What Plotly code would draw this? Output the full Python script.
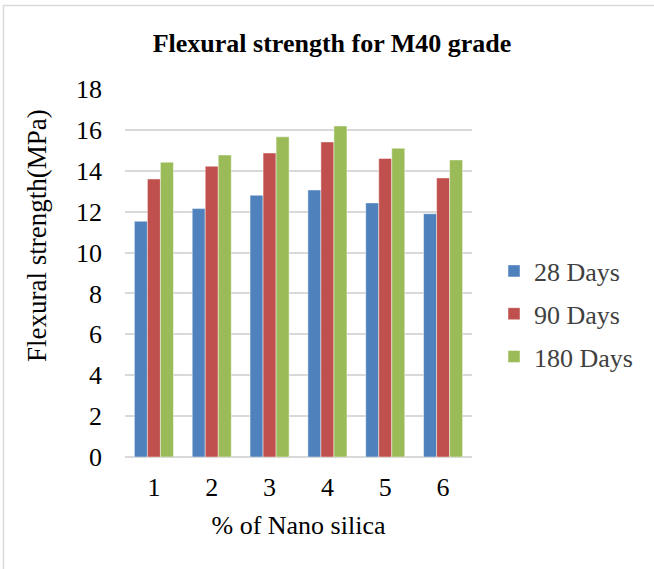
import plotly.graph_objects as go

categories = ["1", "2", "3", "4", "5", "6"]
days28 = [11.53, 12.15, 12.80, 13.06, 12.43, 11.90]
days90 = [13.60, 14.22, 14.87, 15.41, 14.60, 13.65]
days180 = [14.42, 14.77, 15.66, 16.19, 15.10, 14.53]
series_names = ["28 Days", "90 Days", "180 Days"]
colors = ["#4F81BD", "#C0504D", "#9BBB59"]
y_ticks = [0, 2, 4, 6, 8, 10, 12, 14, 16, 18]

FONT = "Liberation Serif, Times New Roman, serif"
FS = 26

fig = go.Figure()
for i, (name, vals) in enumerate(zip(series_names, [days28, days90, days180])):
    fig.add_trace(go.Bar(
        x=categories, y=vals, name=name,
        marker=dict(color=colors[i], line=dict(color="rgba(255,255,255,0.45)", width=1)),
        legendgroup=name,
    ))

W, H = 654, 569
L, R, T, B = 125, 182, 89, 112
pw, ph = W - L - R, H - T - B

def px_to_paper_x(p):
    return (p - L) / pw

def px_to_paper_y(p):
    return (H - B - p) / ph

fig.update_layout(
    width=W, height=H,
    margin=dict(l=L, r=R, t=T, b=B, autoexpand=False),
    paper_bgcolor="white", plot_bgcolor="white",
    barmode="group", bargap=0.325, bargroupgap=0,
    font=dict(family=FONT, size=FS, color="#000000"),
    title=dict(text="<b>Flexural strength for M40 grade</b>",
               font=dict(family=FONT, size=FS, color="#000000"),
               x=332 / W, xref="container", xanchor="center",
               y=1 - 43 / H, yref="container", yanchor="middle"),
    legend=dict(x=px_to_paper_x(494), xanchor="left",
                y=px_to_paper_y(314), yanchor="middle",
                font=dict(family=FONT, size=FS, color="#404040"),
                tracegroupgap=6, bgcolor="rgba(0,0,0,0)"),
    xaxis=dict(
        type="category", showgrid=False, showline=False, ticks="",
        tickfont=dict(family=FONT, size=FS, color="#000000"),
        ticklabelstandoff=12,
        title=dict(text="% of Nano silica", font=dict(family=FONT, size=FS, color="#000000"), standoff=14),
    ),
    yaxis=dict(
        range=[0, 18], tickvals=y_ticks, showgrid=True, gridcolor="#D9D9D9", gridwidth=2,
        zeroline=True, zerolinecolor="#D9D9D9", zerolinewidth=2,
        showline=False, ticks="",
        tickfont=dict(family=FONT, size=FS, color="#000000"),
        ticklabelstandoff=22,
    ),
    annotations=[dict(text="Flexural strength(MPa)", textangle=-90, showarrow=False,
                      xref="paper", yref="paper",
                      x=px_to_paper_x(37), y=px_to_paper_y(236),
                      xanchor="center", yanchor="middle",
                      font=dict(family=FONT, size=27, color="#000000"))],
    shapes=[dict(type="rect", xref="paper", yref="paper",
                 x0=px_to_paper_x(3.5), x1=px_to_paper_x(670),
                 y0=px_to_paper_y(590), y1=px_to_paper_y(5.5),
                 line=dict(color="#D9D9D9", width=1.5), fillcolor="rgba(0,0,0,0)", layer="below")],
)

fig.write_html("out.html")
